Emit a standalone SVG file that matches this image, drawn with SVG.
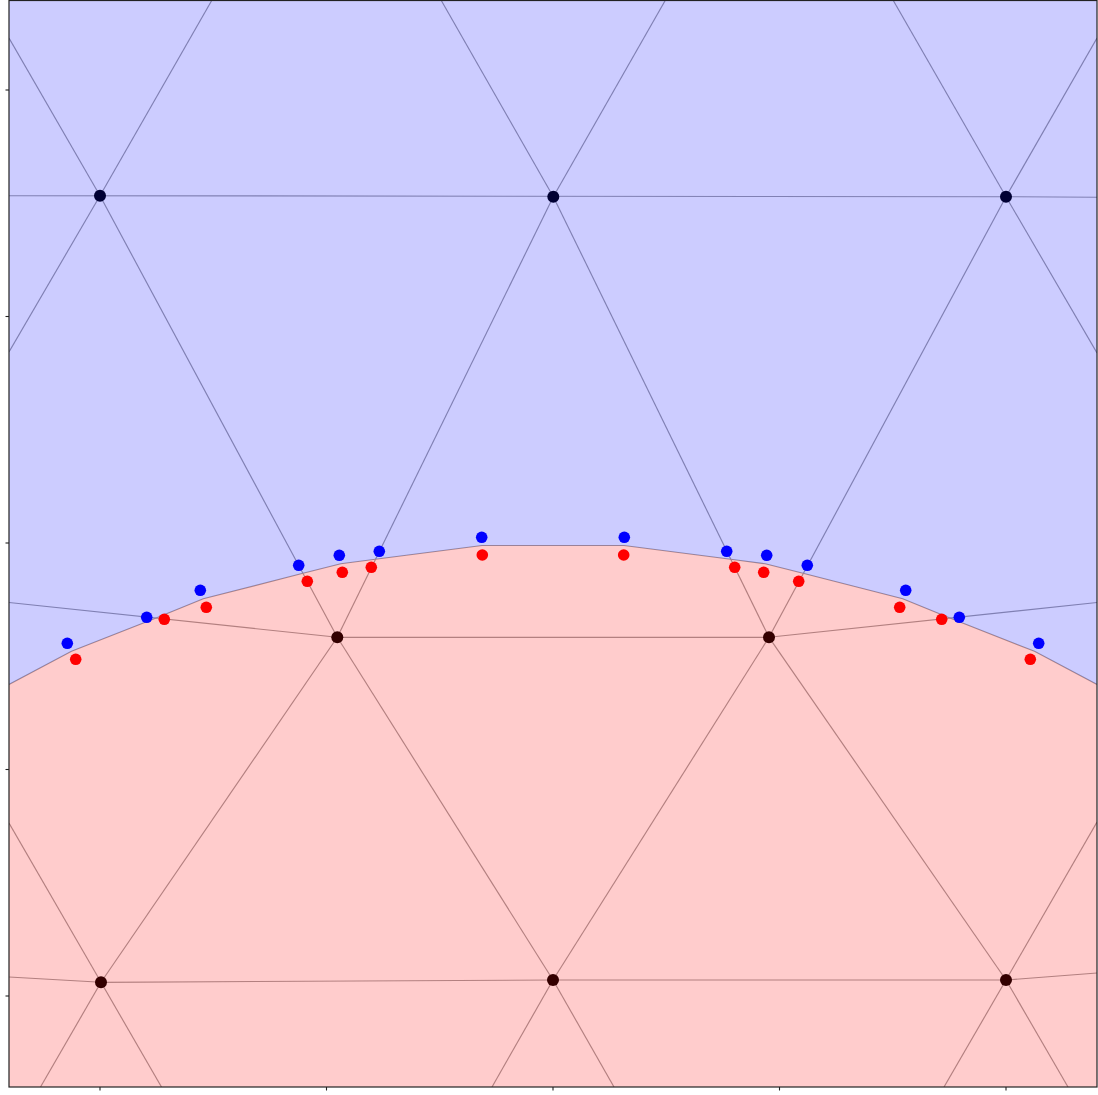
<svg xmlns="http://www.w3.org/2000/svg" width="1098" height="1095" viewBox="0 0 1098 1095">
<defs>
<style>
.edge{stroke:#a0a0a0;stroke-width:1.15;fill:none}
.node{fill:#000}
.blue{fill:#0000ff}
.red{fill:#ff0000}
.tick{stroke:#222;stroke-width:1.1}
</style>
<clipPath id="ax"><rect x="9" y="0" width="1088" height="1087"/></clipPath>
</defs>
<rect width="1098" height="1095" fill="#fff"/>
<g clip-path="url(#ax)">
<g id="connectors">
<line class="edge" x1="9" y1="195.7" x2="1006" y2="196.7"/>
<line class="edge" x1="1006" y1="196.7" x2="1097" y2="197.3"/>
<line class="edge" x1="9" y1="38" x2="100" y2="195.7"/>
<line class="edge" x1="100" y1="195.7" x2="212" y2="0"/>
<line class="edge" x1="9" y1="352" x2="100" y2="195.7"/>
<line class="edge" x1="100" y1="195.7" x2="337.3" y2="637.3"/>
<line class="edge" x1="441" y1="0" x2="553.3" y2="196.7"/>
<line class="edge" x1="553.3" y1="196.7" x2="665.5" y2="0"/>
<line class="edge" x1="553.3" y1="196.7" x2="337.3" y2="637.3"/>
<line class="edge" x1="553.3" y1="196.7" x2="769" y2="637.3"/>
<line class="edge" x1="893" y1="0" x2="1006" y2="196.7"/>
<line class="edge" x1="1006" y1="196.7" x2="1097" y2="38"/>
<line class="edge" x1="1006" y1="196.7" x2="1097" y2="353"/>
<line class="edge" x1="1006" y1="196.7" x2="769" y2="637.3"/>
<line class="edge" x1="9" y1="602.5" x2="337.3" y2="637.3"/>
<line class="edge" x1="337.3" y1="637.3" x2="769" y2="637.3"/>
<line class="edge" x1="769" y1="637.3" x2="1097" y2="602.5"/>
<line class="edge" x1="337.3" y1="637.3" x2="101" y2="982.3"/>
<line class="edge" x1="337.3" y1="637.3" x2="553" y2="980"/>
<line class="edge" x1="769" y1="637.3" x2="553" y2="980"/>
<line class="edge" x1="769" y1="637.3" x2="1006" y2="980"/>
<line class="edge" x1="9" y1="823" x2="101" y2="982.3"/>
<line class="edge" x1="9" y1="977" x2="101" y2="982.3"/>
<line class="edge" x1="101" y1="982.3" x2="553" y2="980"/>
<line class="edge" x1="553" y1="980" x2="1006" y2="980"/>
<line class="edge" x1="1006" y1="980" x2="1097" y2="973"/>
<line class="edge" x1="1006" y1="980" x2="1097" y2="822"/>
<line class="edge" x1="101" y1="982.3" x2="40.5" y2="1087"/>
<line class="edge" x1="101" y1="982.3" x2="161.5" y2="1087"/>
<line class="edge" x1="553" y1="980" x2="492" y2="1087"/>
<line class="edge" x1="553" y1="980" x2="614" y2="1087"/>
<line class="edge" x1="1006" y1="980" x2="944" y2="1087"/>
<line class="edge" x1="1006" y1="980" x2="1068" y2="1087"/>
<polyline class="edge" points="9,684.5 71.5,651.3 155.5,618.3 203.3,598.8 303,573.3 340.8,563.8 375.3,559.3 482,545.5 624,545.5 730.7,559.3 765.2,563.8 803,573.3 902.7,598.8 950.5,618.3 1034.5,651.3 1097,684.5"/>
</g>
<g id="n1"><circle class="node" cx="100" cy="195.7" r="6"/></g>
<g id="n2"><circle class="node" cx="553.3" cy="196.7" r="6"/></g>
<g id="n3"><circle class="node" cx="1006" cy="196.7" r="6"/></g>
<g id="n4"><circle class="node" cx="337.3" cy="637.3" r="6"/></g>
<g id="n5"><circle class="node" cx="769" cy="637.3" r="6"/></g>
<g id="n6"><circle class="node" cx="101" cy="982.3" r="6"/></g>
<g id="n7"><circle class="node" cx="553" cy="980" r="6"/></g>
<g id="n8"><circle class="node" cx="1006" cy="980" r="6"/></g>
<polygon fill="#0000ff" fill-opacity="0.2" points="9,0 1097,0 1097,684.5 1034.5,651.3 950.5,618.3 902.7,598.8 803,573.3 765.2,563.8 730.7,559.3 624,545.5 482,545.5 375.3,559.3 340.8,563.8 303,573.3 203.3,598.8 155.5,618.3 71.5,651.3 9,684.5"/>
<polygon fill="#ff0000" fill-opacity="0.2" points="9,684.5 71.5,651.3 155.5,618.3 203.3,598.8 303,573.3 340.8,563.8 375.3,559.3 482,545.5 624,545.5 730.7,559.3 765.2,563.8 803,573.3 902.7,598.8 950.5,618.3 1034.5,651.3 1097,684.5 1097,1087 9,1087"/>
<g id="blue-points">
<circle class="blue" cx="67.3" cy="643.3" r="5.8"/>
<circle class="blue" cx="146.7" cy="617.3" r="5.8"/>
<circle class="blue" cx="200.3" cy="590.3" r="5.8"/>
<circle class="blue" cx="298.7" cy="565.3" r="5.8"/>
<circle class="blue" cx="339.3" cy="555.3" r="5.8"/>
<circle class="blue" cx="379.3" cy="551.3" r="5.8"/>
<circle class="blue" cx="481.7" cy="537.3" r="5.8"/>
<circle class="blue" cx="624.3" cy="537.3" r="5.8"/>
<circle class="blue" cx="726.7" cy="551.3" r="5.8"/>
<circle class="blue" cx="766.7" cy="555.3" r="5.8"/>
<circle class="blue" cx="807.3" cy="565.3" r="5.8"/>
<circle class="blue" cx="905.7" cy="590.3" r="5.8"/>
<circle class="blue" cx="959.3" cy="617.3" r="5.8"/>
<circle class="blue" cx="1038.7" cy="643.3" r="5.8"/>
</g>
<g id="red-points">
<circle class="red" cx="75.7" cy="659.3" r="5.8"/>
<circle class="red" cx="164.3" cy="619.3" r="5.8"/>
<circle class="red" cx="206.3" cy="607.3" r="5.8"/>
<circle class="red" cx="307.3" cy="581.3" r="5.8"/>
<circle class="red" cx="342.3" cy="572.3" r="5.8"/>
<circle class="red" cx="371.3" cy="567.3" r="5.8"/>
<circle class="red" cx="482.3" cy="555" r="5.8"/>
<circle class="red" cx="623.7" cy="555" r="5.8"/>
<circle class="red" cx="734.7" cy="567.3" r="5.8"/>
<circle class="red" cx="763.7" cy="572.3" r="5.8"/>
<circle class="red" cx="798.7" cy="581.3" r="5.8"/>
<circle class="red" cx="899.7" cy="607.3" r="5.8"/>
<circle class="red" cx="941.7" cy="619.3" r="5.8"/>
<circle class="red" cx="1030.3" cy="659.3" r="5.8"/>
</g>
</g>
<g id="axes">
<rect x="9" y="0.5" width="1088" height="1086.5" fill="none" stroke="#222" stroke-width="1.2"/>
<line class="tick" x1="5.5" y1="90" x2="9" y2="90"/>
<line class="tick" x1="5.5" y1="316.5" x2="9" y2="316.5"/>
<line class="tick" x1="5.5" y1="543" x2="9" y2="543"/>
<line class="tick" x1="5.5" y1="769.5" x2="9" y2="769.5"/>
<line class="tick" x1="5.5" y1="996" x2="9" y2="996"/>
<line class="tick" x1="100" y1="1087" x2="100" y2="1090.5"/>
<line class="tick" x1="326.5" y1="1087" x2="326.5" y2="1090.5"/>
<line class="tick" x1="553" y1="1087" x2="553" y2="1090.5"/>
<line class="tick" x1="779.5" y1="1087" x2="779.5" y2="1090.5"/>
<line class="tick" x1="1006" y1="1087" x2="1006" y2="1090.5"/>
</g>
</svg>
